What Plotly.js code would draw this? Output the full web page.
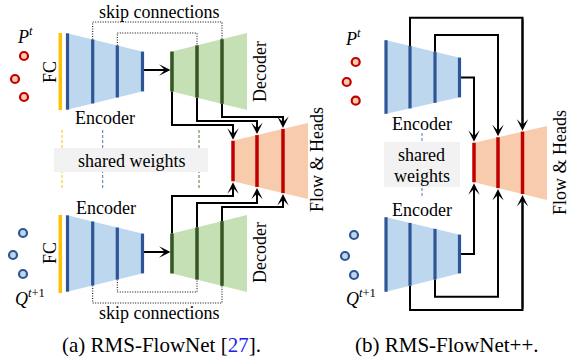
<!DOCTYPE html>
<html>
<head>
<meta charset="utf-8">
<script src="https://cdn.plot.ly/plotly-3.0.1.min.js"></script>
<style>
  html, body { margin: 0; padding: 0; background: #ffffff; }
  #fig { width: 571px; height: 358px; }
</style>
</head>
<body>
<div id="fig"></div>
<script>
// ---- Block outlines: [x0, x1, top@x0, bottom@x0, top@x1, bottom@x1] ----
const encATop = [66, 144, 33, 110, 52, 91];
const decATop = [170, 247, 52, 91, 33, 110];
const encABot = [66, 144, 215, 292, 234, 273];
const decABot = [170, 247, 234, 273, 215, 292];
const headA   = [232, 308, 141, 181, 123, 199];
const encBTop = [385, 461, 40, 114, 58, 97];
const encBBot = [385, 461, 217, 292, 235, 273];
const headB   = [473, 547, 143, 182, 126, 200];

// ---- Layer positions inside the blocks ----
const encALayers  = [67.5, 92.7, 117.3, 142.5];
const decALayers  = [172, 197, 222];
const headALayers = [233, 257, 283];
const encBLayers  = [386, 410, 435, 459.5];
const headBLayers = [474, 498, 522.5];

// FC columns (x, top, bottom)
const fcX = 60.3;
const fcSpans = [[33, 110], [215, 293]];

// ---- Routing levels for the connections ----
const runATop  = [125, 121, 117];   // decoder layer -> head layer (upper branch)
const runABot  = [196, 203, 207];   // decoder layer -> head layer (lower branch)
const skipATop = [22, 33];          // skip connection rails, upper branch
const skipABot = [303, 292];        // skip connection rails, lower branch
const runBTop  = [17.7, 35];        // encoder layer 2,3 -> head layer 3,2 (upper)
const runBBot  = [310, 296.7];      // encoder layer 2,3 -> head layer 3,2 (lower)

// ---- Point sets ----
const ptsRedAX = [24, 15, 24],  ptsRedAY = [56, 79, 97];
const ptsBlueAX = [23, 13, 23], ptsBlueAY = [233, 255, 274];
const ptsRedBX = [355.7, 346.7, 355.7], ptsRedBY = [62, 82, 100.7];
const ptsBlueBX = [354, 345, 354],      ptsBlueBY = [235, 256, 275];

// ---- Shared-weight boxes and guide lines ----
const boxA = [54, 208, 148, 172];
const boxB = [384, 460, 142, 187];
const guideAX = [62, 102.7, 199];
const guideAColors = ['#ffc000', '#4a74c4', '#4f7a33'];
const guideASpan = [130, 190];
const guideBX = 422;
const guideBSpan = [133, 197];

// ---- Colours ----
const C = {
  encFill: '#bdd7ee', encLine: '#2f5597',
  decFill: '#c5e0b4', decLine: '#375623',
  headFill: '#f8cbad', headLine: '#c00000',
  fc: '#ffc000', box: '#f2f2f2'
};
const SERIF = 'Liberation Serif';

const traces = [];
const annotations = [];

function edgeY(b, x, which) {
  let t = (x - b[0]) / (b[1] - b[0]);
  t = Math.max(0, Math.min(1, t));
  return which === 'top' ? b[2] + t * (b[4] - b[2]) : b[3] + t * (b[5] - b[3]);
}
function block(b, fill) {
  traces.push({
    type: 'scatter', mode: 'lines', fill: 'toself', fillcolor: fill,
    x: [b[0], b[1], b[1], b[0], b[0]],
    y: [b[2], b[4], b[5], b[3], b[2]],
    line: { width: 0 }, hoverinfo: 'skip'
  });
}
function layers(b, xs, color, w) {
  xs.forEach(x => {
    traces.push({
      type: 'scatter', mode: 'lines', x: [x, x],
      y: [edgeY(b, x, 'top'), edgeY(b, x, 'bottom')],
      line: { color, width: w }, hoverinfo: 'skip'
    });
  });
}
function poly(xs, ys, opts) {
  traces.push(Object.assign({
    type: 'scatter', mode: 'lines', x: xs, y: ys, hoverinfo: 'skip',
    line: { color: '#000', width: 1 }
  }, opts));
}
// Polyline ending in an arrowhead at the last point
function arrowPath(pts) {
  const n = pts.length;
  const a = pts[n - 2], b = pts[n - 1];
  const dx = b[0] - a[0], dy = b[1] - a[1];
  const len = Math.hypot(dx, dy);
  const cut = [b[0] - dx / len * 5, b[1] - dy / len * 5];
  const line = pts.slice(0, n - 1).concat([cut]);
  poly(line.map(p => p[0]), line.map(p => p[1]),
       { line: { color: '#000', width: 2 } });
  annotations.push({
    x: b[0], y: b[1], ax: a[0], ay: a[1], xref: 'x', yref: 'y',
    axref: 'x', ayref: 'y', text: '', showarrow: true,
    arrowhead: 3, arrowsize: 0.95, arrowwidth: 2, arrowcolor: '#000', standoff: 0
  });
}
function dots(xs, ys, fill, stroke) {
  traces.push({
    type: 'scatter', mode: 'markers', x: xs, y: ys, hoverinfo: 'skip',
    marker: { size: 8, color: fill, line: { color: stroke, width: 2.2 } }
  });
}
function label(text, x, y, size, extra) {
  annotations.push(Object.assign({
    text, x, y, xref: 'x', yref: 'y', showarrow: false,
    xanchor: 'center', yanchor: 'middle',
    font: { family: SERIF, size: size, color: '#000' }
  }, extra || {}));
}

// ---- Shared-weight guides and boxes (drawn first, boxes cover guides) ----
guideAX.forEach((x, i) => poly([x, x], guideASpan,
  { line: { color: guideAColors[i], width: 1, dash: '3px,2px' } }));
poly([guideBX, guideBX], guideBSpan, { line: { color: '#4a74c4', width: 1, dash: '3px,2px' } });
[boxA, boxB].forEach(bx => traces.push({
  type: 'scatter', mode: 'lines', fill: 'toself', fillcolor: C.box,
  x: [bx[0], bx[1], bx[1], bx[0], bx[0]], y: [bx[2], bx[2], bx[3], bx[3], bx[2]],
  line: { width: 0 }, hoverinfo: 'skip'
}));

// ---- Blocks ----
block(encATop, C.encFill); block(encABot, C.encFill);
block(decATop, C.decFill); block(decABot, C.decFill);
block(headA, C.headFill);
block(encBTop, C.encFill); block(encBBot, C.encFill);
block(headB, C.headFill);

// ---- Skip connections (dotted) ----
const dotted = { color: '#000', width: 1, dash: '1px,1.5px' };
[[1, 2], [2, 1]].forEach(([ei, di], k) => {
  const xe = encALayers[ei], xd = decALayers[di];
  poly([xe, xe, xd, xd], [edgeY(encATop, xe, 'top'), skipATop[k], skipATop[k], edgeY(decATop, xd, 'top')],
       { line: dotted });
  poly([xe, xe, xd, xd], [edgeY(encABot, xe, 'bottom'), skipABot[k], skipABot[k], edgeY(decABot, xd, 'bottom')],
       { line: dotted });
});

// ---- Encoder -> decoder ----
arrowPath([[144, 70], [170.5, 70]]);
arrowPath([[144, 252], [170.5, 252]]);

// ---- Decoder layers -> flow heads (panel a) ----
decALayers.forEach((xd, i) => {
  const xh = headALayers[i];
  arrowPath([[xd, edgeY(decATop, xd, 'bottom')], [xd, runATop[i]], [xh, runATop[i]],
             [xh, edgeY(headA, xh, 'top') - 1]]);
  arrowPath([[xd, edgeY(decABot, xd, 'top')], [xd, runABot[i]], [xh, runABot[i]],
             [xh, edgeY(headA, xh, 'bottom') + 1]]);
});

// ---- Encoder layers -> flow heads (panel b) ----
{
  const xe = encBLayers[3], xh = headBLayers[0];
  const yT = (encBTop[4] + encBTop[5]) / 2, yB = (encBBot[4] + encBBot[5]) / 2;
  arrowPath([[xe, yT], [xh, yT], [xh, edgeY(headB, xh, 'top') - 1]]);
  arrowPath([[xe, yB], [xh, yB], [xh, edgeY(headB, xh, 'bottom') + 1]]);
  [[1, 2], [2, 1]].forEach(([ei, hi], k) => {
    const x0 = encBLayers[ei], x1 = headBLayers[hi];
    arrowPath([[x0, edgeY(encBTop, x0, 'top')], [x0, runBTop[k]], [x1, runBTop[k]],
               [x1, edgeY(headB, x1, 'top') - 1]]);
    arrowPath([[x0, edgeY(encBBot, x0, 'bottom')], [x0, runBBot[k]], [x1, runBBot[k]],
               [x1, edgeY(headB, x1, 'bottom') + 1]]);
  });
}

// ---- Layer bars ----
layers(encATop, encALayers, C.encLine, 3.2);
layers(encABot, encALayers, C.encLine, 3.2);
layers(decATop, decALayers, C.decLine, 3.5);
layers(decABot, decALayers, C.decLine, 3.5);
layers(headA, headALayers, C.headLine, 3.5);
layers(encBTop, encBLayers, C.encLine, 3.2);
layers(encBBot, encBLayers, C.encLine, 3.2);
layers(headB, headBLayers, C.headLine, 3.5);
fcSpans.forEach(s => poly([fcX, fcX], s, { line: { color: C.fc, width: 3.5 } }));

// ---- Point clouds ----
dots(ptsRedAX, ptsRedAY, C.headFill, C.headLine);
dots(ptsBlueAX, ptsBlueAY, C.encFill, C.encLine);
dots(ptsRedBX, ptsRedBY, C.headFill, C.headLine);
dots(ptsBlueBX, ptsBlueBY, C.encFill, C.encLine);

// ---- Text ----
label('skip connections', 159, 12, 18);
label('skip connections', 159, 313, 18);
label('Encoder', 105, 118, 18);
label('Encoder', 106, 208, 18);
label('shared weights', 131, 161, 18);
label('FC', 50, 72, 18, { textangle: -90 });
label('FC', 50, 253, 18, { textangle: -90 });
label('Decoder', 260, 72, 18, { textangle: -90 });
label('Decoder', 260, 253, 18, { textangle: -90 });
label('Flow &amp; Heads', 317, 160, 18, { textangle: -90 });
label('Encoder', 421.5, 124, 18);
label('Encoder', 421.5, 210, 18);
label('shared', 421.5, 155, 18);
label('weights', 421.5, 176, 18);
label('Flow &amp; Heads', 560, 163, 18, { textangle: -90 });
label('<i>P</i><sup><i>t</i></sup>', 25, 35, 18);
label('<i>P</i><sup><i>t</i></sup>', 353, 37, 18);
label('<i>Q</i><sup><i>t</i>+1</sup>', 30, 297, 18);
label('<i>Q</i><sup><i>t</i>+1</sup>', 361, 297, 18);
label('(a) RMS-FlowNet [<span style="color:#2222ee">27</span>].', 161, 345, 21);
label('(b) RMS-FlowNet++.', 447, 345, 21);

Plotly.newPlot('fig', traces, {
  width: 571, height: 358,
  margin: { l: 0, r: 0, t: 0, b: 0 },
  paper_bgcolor: '#ffffff', plot_bgcolor: '#ffffff',
  showlegend: false, hovermode: false,
  xaxis: { range: [0, 571], visible: false, fixedrange: true },
  yaxis: { range: [358, 0], visible: false, fixedrange: true },
  annotations: annotations
}, { staticPlot: true, displayModeBar: false });
</script>
</body>
</html>
